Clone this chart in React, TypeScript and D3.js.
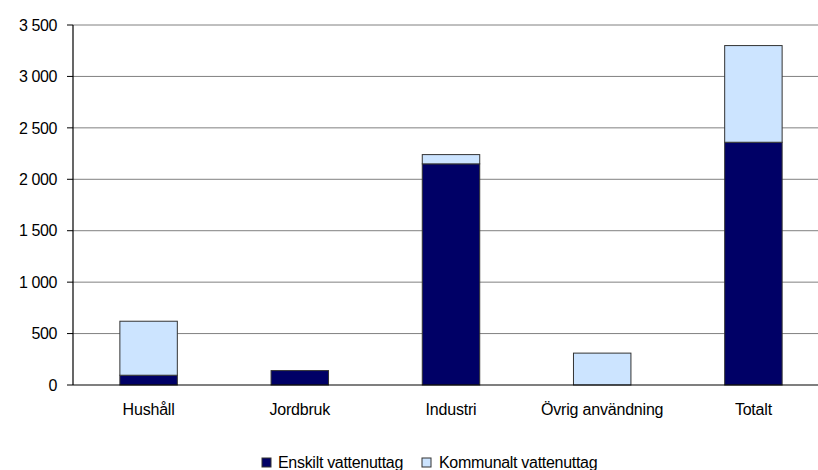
import React from "react";
import * as d3 from "d3";

const categories = ["Hushåll", "Jordbruk", "Industri", "Övrig användning", "Totalt"];
const enskilt = [95, 140, 2150, 0, 2360];
const kommunalt = [525, 0, 90, 310, 940];
const yTicks = [0, 500, 1000, 1500, 2000, 2500, 3000, 3500];
const seriesNames = ["Enskilt vattenuttag", "Kommunalt vattenuttag"];
const seriesColors = ["#000066", "#CCE4FF"];

const W = 818;
const H = 470;
const m = { left: 73, top: 25, bottom: 385, right: 829 };

function fmt(v: number) {
  const s = String(v);
  return s.length > 3 ? s.slice(0, s.length - 3) + "\u00a0" + s.slice(s.length - 3) : s;
}

export default function App() {
  const x = d3.scaleBand<string>().domain(categories).range([m.left, m.right]).paddingInner(0.62).paddingOuter(0.31);
  const y = d3.scaleLinear().domain([0, 3500]).range([m.bottom, m.top]);
  const rows = categories.map((c, i) => ({ c, a: enskilt[i], b: kommunalt[i] }));
  const stack = d3.stack<any>().keys(["a", "b"])(rows as any);
  const font = "'Liberation Sans', Arial, sans-serif";
  return (
    <svg width={W} height={H} style={{ position: "absolute", left: 0, top: 0 }} fontFamily={font}>
      <rect width={W} height={H} fill="#fff" />
      {yTicks.map((t) => (
        <g key={t}>
          {t > 0 && <line x1={m.left} x2={W} y1={y(t)} y2={y(t)} stroke="#808080" strokeWidth={1} />}
          <line x1={m.left - 6} x2={m.left} y1={y(t)} y2={y(t)} stroke="#000" strokeWidth={1} />
          <text x={57} y={y(t)} dy="0.36em" textAnchor="end" fontSize={16} letterSpacing={-0.4} fill="#000">{fmt(t)}</text>
        </g>
      ))}
      {stack.map((s, si) =>
        s.map((d: any, i: number) => {
          const h = y(d[0]) - y(d[1]);
          if (h <= 0) return null;
          return (
            <rect key={si + "-" + i} x={x(categories[i])!} width={x.bandwidth()} y={y(d[1])} height={h}
              fill={seriesColors[si]} stroke="#333" strokeWidth={1} />
          );
        })
      )}
      <line x1={m.left} x2={m.left} y1={m.top} y2={m.bottom} stroke="#000" strokeWidth={1.2} />
      <line x1={m.left} x2={W} y1={m.bottom} y2={m.bottom} stroke="#000" strokeWidth={1.2} />
      {categories.map((c) => (
        <text key={c} x={x(c)! + x.bandwidth() / 2} y={415} textAnchor="middle" fontSize={16} letterSpacing={-0.2} fill="#000">{c}</text>
      ))}
      <g>
        <rect x={262} y={458} width={9} height={9} fill={seriesColors[0]} stroke="#333" />
        <text x={278} y={468} fontSize={16} letterSpacing={-0.3} fill="#000">{seriesNames[0]}</text>
        <rect x={422} y={458} width={9} height={9} fill={seriesColors[1]} stroke="#333" />
        <text x={439} y={468} fontSize={16} letterSpacing={-0.3} fill="#000">{seriesNames[1]}</text>
      </g>
    </svg>
  );
}
